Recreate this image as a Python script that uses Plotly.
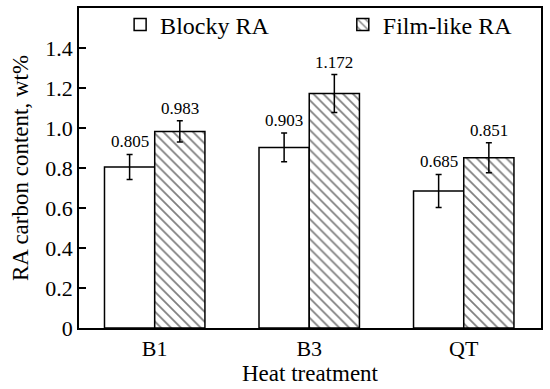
import plotly.graph_objects as go

categories = ["B1", "B3", "QT"]
blocky = [0.805, 0.903, 0.685]
blocky_err = [0.063, 0.072, 0.083]
film = [0.983, 1.172, 0.851]
film_err = [0.053, 0.095, 0.075]
y_ticks = [0, 0.2, 0.4, 0.6, 0.8, 1.0, 1.2, 1.4]
y_ticktext = ["0", "0.2", "0.4", "0.6", "0.8", "1.0", "1.2", "1.4"]

FONT = "Times New Roman"
xs = list(range(len(categories)))
W = 0.325

fig = go.Figure()
fig.add_trace(go.Bar(
    x=xs, y=blocky, name="Blocky RA", width=W, offset=-W, legend="legend",
    marker=dict(color="white", line=dict(color="black", width=1.5)),
    error_y=dict(type="data", array=blocky_err, color="black", thickness=1.5, width=3),
))
fig.add_trace(go.Bar(
    x=xs, y=film, name="Film-like RA", width=W, offset=0, legend="legend2",
    marker=dict(color="white", line=dict(color="black", width=1.5),
                pattern=dict(shape="\\", fgcolor="black", bgcolor="white", size=7, solidity=0.25)),
    error_y=dict(type="data", array=film_err, color="black", thickness=1.5, width=3),
))

for i in xs:
    fig.add_annotation(x=i - W / 2, y=blocky[i] + blocky_err[i], text=f"{blocky[i]:.3f}",
                       showarrow=False, yanchor="bottom", yshift=1,
                       font=dict(family=FONT, size=17, color="black"))
    fig.add_annotation(x=i + W / 2, y=film[i] + film_err[i], text=f"{film[i]:.3f}",
                       showarrow=False, yanchor="bottom", yshift=1,
                       font=dict(family=FONT, size=17, color="black"))

leg_common = dict(orientation="h", yanchor="top", xanchor="left", y=1.0175,
                  font=dict(family=FONT, size=24, color="black"),
                  bgcolor="rgba(0,0,0,0)")

fig.update_layout(
    width=550, height=389,
    margin=dict(l=79, r=9, t=8, b=61, autoexpand=False),
    paper_bgcolor="white", plot_bgcolor="white",
    font=dict(family=FONT, size=22, color="black"),
    showlegend=True,
    legend=dict(x=0.089, **leg_common),
    legend2=dict(x=0.571, **leg_common),
    xaxis=dict(range=[-0.49, 2.5], tickvals=xs, ticktext=categories,
               showline=True, linecolor="black", linewidth=1.5, mirror=True,
               ticks="", showgrid=False, zeroline=False,
               title=dict(text="Heat treatment", font=dict(family=FONT, size=23), standoff=5),
               tickfont=dict(family=FONT, size=22)),
    yaxis=dict(range=[0, 1.6], tickvals=y_ticks, ticktext=y_ticktext,
               showline=True, linecolor="black", linewidth=1.5, mirror=True,
               ticks="inside", ticklen=7, tickwidth=1.5, tickcolor="black",
               showgrid=False, zeroline=False,
               title=dict(text="RA carbon content, wt%", font=dict(family=FONT, size=23), standoff=10),
               tickfont=dict(family=FONT, size=22)),
)

fig.write_html("out.html", config={"displayModeBar": False},
               post_script="document.body.style.margin='0';")
